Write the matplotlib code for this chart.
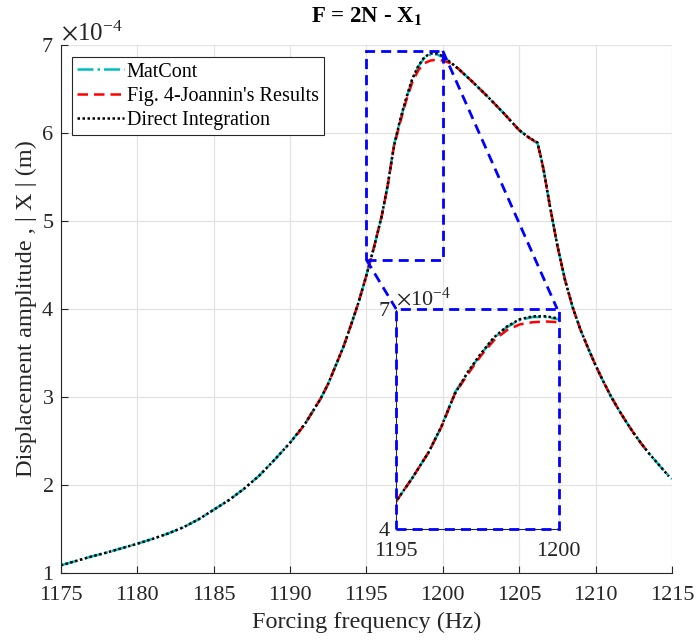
import numpy as np
import matplotlib.pyplot as plt
from matplotlib.patches import Rectangle

plt.rcParams['font.family'] = ['Liberation Serif', 'DejaVu Serif']
plt.rcParams['mathtext.fontset'] = 'stix'

# amplitudes in units of 1e-4 m
freq_matcont = [1175, 1176, 1177, 1178, 1179, 1180, 1181, 1182, 1183, 1184, 1185, 1186, 1187,
                1188, 1189, 1190, 1191, 1192, 1192.5, 1193, 1193.5, 1194, 1194.5, 1195,
                1195.5, 1196, 1196.4, 1196.8, 1197.2, 1197.6, 1198, 1198.4, 1198.8, 1199.2,
                1199.6, 1200, 1200.5, 1201, 1202, 1203, 1204, 1205, 1205.6, 1206.2, 1206.4,
                1206.6, 1207, 1207.5, 1208, 1208.5, 1209, 1209.5, 1210, 1210.5, 1211, 1211.5,
                1212, 1212.5, 1213, 1213.5, 1214, 1214.5, 1215]
amp_matcont = [1.09, 1.14, 1.19, 1.235, 1.285, 1.335, 1.39, 1.45, 1.52, 1.61, 1.72, 1.83, 1.96,
               2.11, 2.29, 2.48, 2.70, 2.98, 3.15, 3.36, 3.57, 3.82, 4.08, 4.38,
               4.70, 5.05, 5.40, 5.86, 6.13, 6.38, 6.60, 6.75, 6.85, 6.89,
               6.89, 6.86, 6.80, 6.73, 6.57, 6.40, 6.22, 6.03, 5.95, 5.88, 5.74,
               5.58, 5.18, 4.72, 4.33, 4.02, 3.77, 3.56, 3.36, 3.18, 3.01, 2.86,
               2.72, 2.59, 2.47, 2.36, 2.26, 2.16, 2.07]

freq_joannin = [1190.5, 1191, 1192, 1192.5, 1193, 1193.5, 1194, 1194.5, 1195, 1195.5, 1196,
                1196.4, 1196.8, 1197.2, 1197.6, 1198, 1198.4, 1198.8, 1199.2, 1199.6, 1200,
                1200.5, 1201, 1202, 1203, 1204, 1205, 1205.6, 1206.2, 1206.4, 1206.6, 1207,
                1207.5, 1208, 1208.5, 1209, 1209.5, 1210, 1210.5, 1211, 1211.5, 1212,
                1212.5, 1213, 1213.5]
amp_joannin = [2.58, 2.70, 2.98, 3.15, 3.36, 3.57, 3.82, 4.08, 4.38, 4.70, 5.05,
               5.40, 5.84, 6.11, 6.36, 6.57, 6.71, 6.79, 6.82, 6.83, 6.82,
               6.79, 6.73, 6.57, 6.40, 6.22, 6.03, 5.95, 5.88, 5.74, 5.58, 5.18,
               4.72, 4.33, 4.02, 3.77, 3.56, 3.36, 3.18, 3.01, 2.86, 2.72,
               2.59, 2.47, 2.36]

freq_direct = [1175, 1176, 1177, 1178, 1179, 1180, 1181, 1182, 1183, 1184, 1185, 1186, 1187,
               1188, 1189, 1190, 1191, 1192, 1192.5, 1193, 1193.5, 1194, 1194.5, 1195,
               1195.5, 1196, 1196.4, 1196.8, 1197.2, 1197.6, 1198, 1198.4, 1198.8, 1199.2,
               1199.6, 1200, 1200.5, 1201, 1202, 1203, 1204, 1205, 1205.6, 1206.2, 1206.4,
               1206.6, 1207, 1207.5, 1208, 1208.5, 1209, 1209.5, 1210, 1210.5, 1211, 1211.5,
               1212, 1212.5, 1213, 1213.5, 1214, 1214.5, 1214.8]
amp_direct = [1.09, 1.14, 1.19, 1.235, 1.285, 1.335, 1.39, 1.45, 1.52, 1.61, 1.72, 1.83, 1.96,
              2.11, 2.29, 2.48, 2.70, 2.98, 3.15, 3.36, 3.57, 3.82, 4.08, 4.38,
              4.70, 5.05, 5.41, 5.84, 6.14, 6.39, 6.61, 6.76, 6.86, 6.90,
              6.90, 6.87, 6.80, 6.73, 6.57, 6.40, 6.22, 6.03, 5.95, 5.89, 5.74,
              5.58, 5.18, 4.72, 4.33, 4.02, 3.77, 3.56, 3.36, 3.18, 3.01, 2.86,
              2.72, 2.59, 2.47, 2.36, 2.26, 2.16, 2.10]

# zoom window and inset placement (Hz, 1e-4 m)
zoom_box = (1195, 4.56, 1200, 6.93)
inset_box = (1196.95, 1.5, 10.64, 2.5)

dark = '#262626'
grid_c = '#e3e3e3'
blue_ls = (0, (3.6, 2.2))


def draw_curves(ax):
    ax.plot(freq_matcont, np.array(amp_matcont) * 1e-4, color='c', ls='-.', lw=1.8,
            label='MatCont')
    ax.plot(freq_joannin, np.array(amp_joannin) * 1e-4, color='r', lw=1.8,
            dashes=(4.2, 2.4), label="Fig. 4-Joannin's Results")
    ax.plot(freq_direct, np.array(amp_direct) * 1e-4, color='k', lw=1.8,
            dashes=(1.0, 1.0), label='Direct Integration')


fig = plt.figure(figsize=(6.97, 6.42), dpi=100)
ax = fig.add_axes([0.0871, 0.107, 0.877, 0.8234])

draw_curves(ax)

ax.set_xlim(1175, 1215)
ax.set_ylim(1e-4, 7e-4)
ax.set_xticks(np.arange(1175, 1216, 5))
ax.set_yticks(np.arange(1, 8) * 1e-4)
ax.ticklabel_format(axis='y', style='sci', scilimits=(-4, -4), useMathText=True)
ax.yaxis.get_offset_text().set_fontsize(18)
ax.yaxis.get_offset_text().set_color(dark)
ax.tick_params(direction='in', labelsize=16, colors=dark, length=5, width=0.8)
ax.tick_params(axis='x', pad=9)
ax.tick_params(axis='y', pad=5)
ax.grid(True, color=grid_c, lw=0.9)
ax.set_axisbelow(True)
for s in ['top', 'right']:
    ax.spines[s].set_visible(False)
for s in ['left', 'bottom']:
    ax.spines[s].set_color(dark)
    ax.spines[s].set_linewidth(0.8)

ax.set_xlabel('Forcing frequency (Hz)', fontsize=17.5, color=dark, labelpad=5)
ax.set_ylabel('Displacement amplitude , | X | (m)', fontsize=17.5, color=dark, labelpad=3)
ax.set_title(r'F = 2N - X$_\mathbf{1}$', fontsize=16.5, fontweight='bold', pad=16)

leg = ax.legend(loc='upper left', bbox_to_anchor=(0.019, 0.976), fontsize=14.5,
                handlelength=2.3, handletextpad=0.15, borderpad=0.25, labelspacing=0.25,
                fancybox=False, framealpha=1, edgecolor=dark, borderaxespad=0)
leg.get_frame().set_linewidth(0.8)

# zoom rectangle on main axes
x0, y0, x1, y1 = zoom_box
ax.add_patch(Rectangle((x0, y0 * 1e-4), x1 - x0, (y1 - y0) * 1e-4, fill=False,
                       ec='b', lw=2, ls=blue_ls, zorder=5))
ix, iy, iw, ih = inset_box
ax.plot([x0, ix], [y0 * 1e-4, (iy + ih) * 1e-4], color='b', lw=2, ls=blue_ls, zorder=5)
ax.plot([x1, ix + iw - 0.1], [y1 * 1e-4, (iy + ih) * 1e-4], color='b', lw=2,
        ls=blue_ls, zorder=5)

# inset
axin = ax.inset_axes([ix, iy * 1e-4, iw, ih * 1e-4], transform=ax.transData)
axin.patch.set_alpha(0)
draw_curves(axin)
axin.set_xlim(1195, 1200)
axin.set_ylim(4e-4, 7e-4)
axin.set_xticks([1195, 1200])
axin.set_yticks([4e-4, 7e-4])
axin.ticklabel_format(axis='y', style='sci', scilimits=(-4, -4), useMathText=True)
axin.yaxis.get_offset_text().set_fontsize(16)
axin.yaxis.get_offset_text().set_color(dark)
axin.tick_params(direction='in', labelsize=16, colors=dark, length=0)
axin.tick_params(axis='x', pad=9)
axin.tick_params(axis='y', pad=4)
for s in ['top', 'right']:
    axin.spines[s].set_color(grid_c)
for s in ['left', 'bottom']:
    axin.spines[s].set_color(dark)
    axin.spines[s].set_linewidth(0.8)
axin.add_patch(Rectangle((1195, 4e-4), 5, 3e-4, fill=False, ec='b', lw=2,
                         ls=blue_ls, clip_on=False, zorder=5))

fig.savefig('out.png', dpi=100)
